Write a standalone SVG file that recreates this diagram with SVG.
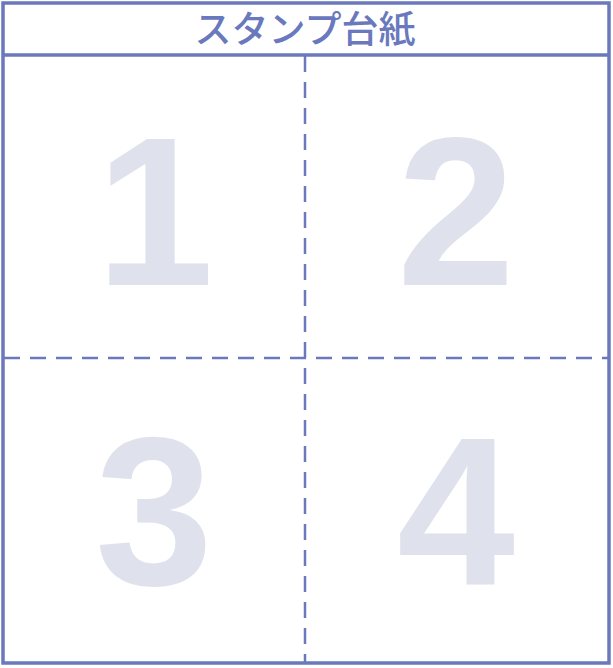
<svg xmlns="http://www.w3.org/2000/svg" width="613" height="668" viewBox="0 0 613 668">
<style>
.frame{fill:none;stroke:#6a78bd;stroke-width:3.5}
.dash{stroke:#6a78bd;stroke-width:2.5;stroke-dasharray:16 10;fill:none}
.num{font-family:"Liberation Sans",Arial,sans-serif;font-weight:bold;font-size:212px;fill:#dfe2ec;text-anchor:middle}
.title{font-family:"Noto Sans CJK JP","Noto Sans",sans-serif;font-weight:500;font-size:37px;fill:#6a78bd;text-anchor:middle}
</style>
<rect width="613" height="668" fill="#ffffff"/>
<g id="header">
<text class="title" x="305" y="43">スタンプ台紙</text>
</g>
<g id="cell1"><text class="num" x="155" y="285">1</text></g>
<g id="cell2"><text class="num" x="456" y="285">2</text></g>
<g id="cell3"><text class="num" x="154" y="585">3</text></g>
<g id="cell4"><text class="num" x="456" y="585">4</text></g>
<g id="connectors">
<line class="dash" x1="305" y1="56" x2="305" y2="662"/>
<line class="dash" x1="4" y1="358" x2="608" y2="358"/>
</g>
<g id="frame">
<rect class="frame" x="3" y="3" width="606" height="660"/>
<line class="frame" x1="3" y1="55" x2="609" y2="55"/>
</g>
</svg>
